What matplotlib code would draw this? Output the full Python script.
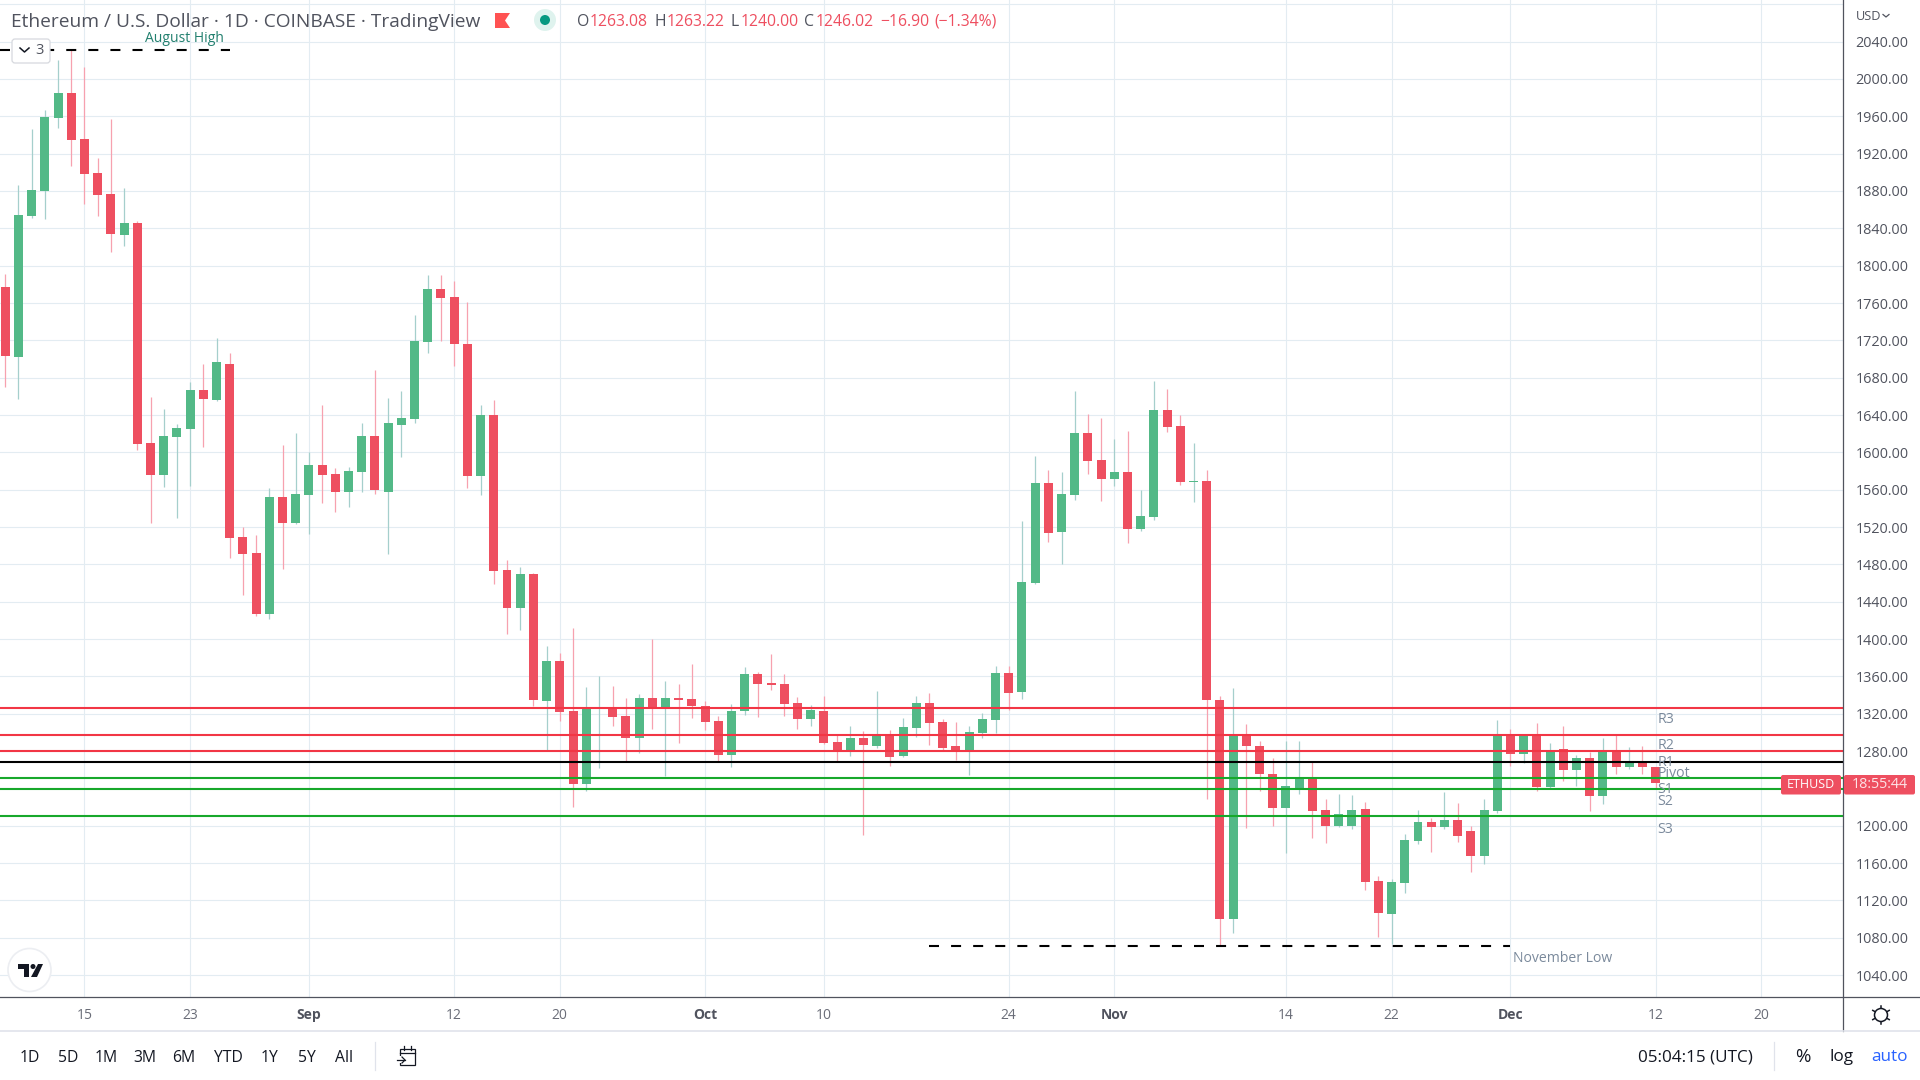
import pandas as pd
import matplotlib
matplotlib.use('Agg')
import matplotlib.pyplot as plt
import matplotlib.dates as mdates
from matplotlib.patches import Circle, FancyBboxPatch, Polygon, Rectangle

plt.rcParams['font.family'] = ['Open Sans', 'DejaVu Sans']

# daily candles from 9 Aug to 12 Dec
opens = [1777, 1702, 1853, 1880, 1958, 1985, 1935.7, 1899, 1876.8, 1832.9, 1845.8, 1609.6, 1575.4, 1617, 1624.6, 1666.4,
         1655.7, 1695, 1509, 1491.8, 1426.5, 1551.8, 1524, 1553.9, 1587, 1576.4, 1557.2, 1578.6, 1618, 1558, 1628.9, 1635.3,
         1718, 1775, 1766.4, 1716, 1574.3, 1639.6, 1473.6, 1432.9, 1469.3, 1333.7, 1376.6, 1323, 1244.9, 1325, 1326.2, 1317.7,
         1294, 1337, 1326, 1337, 1335.9, 1328.4, 1312.3, 1276, 1323, 1362.7, 1353, 1352, 1331.6, 1314.5, 1323, 1289.8,
         1281.3, 1294, 1285.6, 1297.3, 1274.8, 1304.8, 1331.6, 1311.3, 1285.6, 1281.3, 1299.5, 1313.4, 1363.7, 1343, 1459.7, 1566.8,
         1514.3, 1553.9, 1620.3, 1591.4, 1572, 1578.6, 1517.5, 1530.4, 1645, 1627.8, 1568, 1569, 1334.3, 1099.8, 1298, 1286,
         1256, 1218.6, 1240, 1251, 1216.5, 1199.4, 1199.4, 1217.6, 1140.5, 1105, 1138.3, 1183.3, 1203.6, 1198.3, 1205.8, 1194,
         1167.2, 1215.4, 1295.8, 1276.5, 1298, 1241.1, 1281.8, 1259.3, 1272.2, 1231.5, 1280.8, 1262.6, 1266.8, 1263.08]
highs = [1791, 1886, 1946.4, 1967, 2020, 2031, 2012.8, 1915, 1957, 1883, 1848, 1658.9, 1646.8, 1630, 1675, 1695,
         1722.5, 1706.4, 1519.7, 1512, 1561.4, 1607.5, 1620.3, 1600, 1650.3, 1582.9, 1584, 1632, 1687.8, 1657.8, 1665.3, 1747,
         1790, 1790, 1783.6, 1761, 1650.3, 1655.7, 1484.3, 1476.8, 1470.4, 1392.7, 1385, 1412, 1348.7, 1360.5, 1349.8, 1337,
         1341.2, 1400, 1355, 1352, 1373.4, 1333.7, 1317.7, 1330.5, 1370, 1364.8, 1384, 1362.7, 1338, 1329.5, 1339, 1297.3,
         1307, 1301.6, 1344.5, 1302.7, 1315.5, 1339, 1342.3, 1314.5, 1311.3, 1307, 1321, 1371.2, 1371.2, 1526, 1595.7, 1580.7,
         1578.6, 1665.3, 1640.7, 1636.4, 1614, 1622.5, 1559.3, 1677, 1667.5, 1639.6, 1609.6, 1580.7, 1338.6, 1348, 1308.6, 1290.4,
         1273, 1290.4, 1290.4, 1268, 1228.3, 1233.6, 1232.6, 1226, 1145.8, 1142.6, 1190.8, 1216.5, 1208, 1235.8, 1224, 1199.4,
         1228.3, 1312.9, 1303.3, 1298, 1309.7, 1288.3, 1306.5, 1275.4, 1278.6, 1293.6, 1296.8, 1284, 1285, 1263.22]
lows = [1669.6, 1657, 1851.5, 1850, 1947.5, 1906.8, 1866, 1853, 1814.7, 1821, 1603, 1524, 1562.5, 1529.3, 1563.6, 1605.4,
        1654.6, 1486.5, 1446.8, 1424.4, 1421, 1474.7, 1523, 1513, 1546, 1535.7, 1541, 1558, 1555, 1490.8, 1594.6, 1631,
        1706.4, 1719.3, 1693, 1561.4, 1553.9, 1458.6, 1405, 1409.4, 1328, 1281.3, 1312.3, 1220.2, 1237.4, 1262, 1307, 1269.5,
        1278, 1303.8, 1253.4, 1288.8, 1315.5, 1302.7, 1269.5, 1263.1, 1318.8, 1316.6, 1345.5, 1317.7, 1303.8, 1307, 1288, 1269.5,
        1274.8, 1190.2, 1283.4, 1264.1, 1274, 1295.2, 1286.6, 1281.3, 1270.6, 1254.5, 1294.1, 1299.5, 1324.1, 1335.5, 1458.6, 1503.6,
        1480, 1548.6, 1576.4, 1547.5, 1563.6, 1502.5, 1515.4, 1528, 1621.4, 1564.7, 1546.5, 1228.3, 1072, 1084.8, 1198, 1236.8,
        1199.4, 1170.4, 1233.6, 1186.5, 1182, 1199, 1197, 1130.8, 1080.5, 1073, 1127.6, 1180, 1171.5, 1196.2, 1183, 1151,
        1158.7, 1213.3, 1263.6, 1266.8, 1236.8, 1240, 1247.6, 1242.2, 1215.4, 1223, 1256, 1260.4, 1256, 1240]
closes = [1703, 1854, 1881, 1959, 1985, 1934.6, 1898, 1875.7, 1834, 1845.8, 1608.6, 1575.4, 1618, 1625.7, 1666.4, 1656.8,
          1696.4, 1507.9, 1490.8, 1426.5, 1551.8, 1524, 1555, 1587, 1575.4, 1557.2, 1579.6, 1618, 1559.3, 1631, 1636.4, 1719.3,
          1775, 1765.4, 1716, 1574.3, 1639.6, 1472.5, 1432.9, 1469.3, 1334.4, 1376.6, 1322, 1244.9, 1325, 1326.5, 1316.6, 1294,
          1337, 1325.5, 1337, 1334.8, 1328.4, 1311.3, 1276, 1323, 1362.7, 1352, 1351, 1330.5, 1314.5, 1324, 1288.8, 1280,
          1294, 1286.6, 1297.3, 1273.8, 1305.9, 1331.6, 1310.2, 1283.4, 1280.2, 1300.5, 1314.5, 1363.7, 1342.3, 1460.8, 1566.8, 1513.2,
          1555, 1620.3, 1590.4, 1572, 1578.6, 1517.5, 1531.5, 1645, 1626.8, 1567.9, 1568.6, 1334.3, 1099.8, 1295.8, 1285, 1255,
          1218.6, 1242.2, 1251.8, 1215.4, 1199.4, 1212.2, 1216.5, 1139.4, 1106.2, 1139.4, 1184.4, 1203.6, 1198.3, 1205.8, 1188.7, 1167.2,
          1216.5, 1295.8, 1276.5, 1296.8, 1241.1, 1280.8, 1259.3, 1272.2, 1231.5, 1280.8, 1262.6, 1266.8, 1262.6, 1246.02]

price_ticks = list(range(1040, 2081, 40))
# no label at the top gridline, and the price tag hides 1240
hidden_prices = [1240, 2080]
date_ticks = ['2022-08-15', '2022-08-23', '2022-09-01', '2022-09-12', '2022-09-20', '2022-10-01', '2022-10-10',
              '2022-10-24', '2022-11-01', '2022-11-14', '2022-11-22', '2022-12-01', '2022-12-12', '2022-12-20']
date_labels = ['15', '23', 'Sep', '12', '20', 'Oct', '10', '24', 'Nov', '14', '22', 'Dec', '12', '20']
month_labels = ['Sep', 'Oct', 'Nov', 'Dec']

res_levels = [1325.8, 1296.9, 1279.8]
pivot_level = 1268
sup_levels = [1250.8, 1239, 1210.5]
level_names = ['R3', 'R2', 'R1', 'Pivot', 'S1', 'S2', 'S3']
level_text_y = [1314, 1286, 1267.5, 1255.6, 1238.8, 1226, 1196]

august_high = 2031
november_low = 1071

GREEN = '#53b987'
RED = '#ee4f60'
GREEN_WICK = '#a5cfcc'
RED_WICK = '#f7a1af'
GRID = '#e3ecf2'
TEXT = '#50535e'
SLATE = '#7b8a9c'
WIDTH, HEIGHT = 1920, 1080
PANE_R, PANE_B = 1843, 997
DASHES = (0, (4.8, 5.8))

dates = pd.date_range('2022-08-09', periods=len(opens))
x = mdates.date2num(dates)
day15 = mdates.datestr2num('2022-08-15')
px_per_day = 13.203

fig = plt.figure(figsize=(19.2, 10.8), dpi=100, facecolor='white')
ax = fig.add_axes([0, 1 - PANE_B / HEIGHT, PANE_R / WIDTH, PANE_B / HEIGHT])
ax.set_xlim(day15 - 84.5 / px_per_day, day15 + (PANE_R - 84.5) / px_per_day)
ax.set_ylim(1016.6, 2084.6)

# candles
for i in range(len(opens)):
    up = closes[i] >= opens[i]
    ax.vlines(x[i], lows[i], highs[i], color=GREEN_WICK if up else RED_WICK, lw=0.9, zorder=2)
    bottom = min(opens[i], closes[i])
    height = max(abs(closes[i] - opens[i]), 1.6)
    ax.bar(x[i], height, width=0.68, bottom=bottom, color=GREEN if up else RED, lw=0, zorder=3)

# pivot levels
for lev in res_levels:
    ax.axhline(lev, color='#f23645', lw=1.5, zorder=4)
ax.axhline(pivot_level, color='black', lw=1.5, zorder=4)
for lev in sup_levels:
    ax.axhline(lev, color='#17a82b', lw=1.5, zorder=4)
label_x = mdates.datestr2num('2022-12-12') + 0.15
for name, yy in zip(level_names, level_text_y):
    ax.text(label_x, yy, name, color=SLATE, fontsize=10.2, va='center', ha='left', zorder=5)

ax.plot([ax.get_xlim()[0], mdates.datestr2num('2022-08-26')], [august_high, august_high], color='black',
        lw=1.5, ls=DASHES, zorder=4)
ax.plot([mdates.datestr2num('2022-10-18'), mdates.datestr2num('2022-12-01')], [november_low, november_low], color='black',
        lw=1.5, ls=DASHES, zorder=4)
ax.text(mdates.datestr2num('2022-08-23') - 0.4, 2043, 'August High', color='#22806f', fontsize=10, ha='center', va='center', zorder=5)
ax.text(mdates.datestr2num('2022-12-01') + 0.2, 1057.5, 'November Low', color=SLATE, fontsize=10.1, ha='left', va='center', zorder=5)

ax.set_xticks(mdates.datestr2num(date_ticks))
ax.set_xticklabels(date_labels, fontsize=10, color='#6a6d78')
for lab in ax.get_xticklabels():
    if lab.get_text() in month_labels:
        lab.set_fontweight('bold')
        lab.set_color(TEXT)
ax.set_yticks(price_ticks)
ax.set_yticklabels(['' if p in hidden_prices else '%.2f' % p for p in price_ticks], fontsize=10.4, color=TEXT, ha='left')
ax.yaxis.tick_right()
ax.tick_params(axis='both', length=0)
ax.tick_params(axis='x', pad=8)
ax.tick_params(axis='y', pad=9)
ax.grid(True, color=GRID, lw=0.8, zorder=0)
ax.set_axisbelow(True)
for s in ax.spines.values():
    s.set_visible(False)

# toolbar and header drawn in pixel coordinates on top of the pane
ui = fig.add_axes([0, 0, 1, 1], facecolor='none')
ui.set_xlim(0, WIDTH)
ui.set_ylim(HEIGHT, 0)
ui.axis('off')

ui.plot([PANE_R, PANE_R], [0, 1031], color=TEXT, lw=0.9)
ui.plot([0, WIDTH], [PANE_B, PANE_B], color=TEXT, lw=0.9)
ui.plot([0, WIDTH], [1031, 1031], color='#e0e3eb', lw=1.2)
ui.plot([375, 375], [1042, 1070], color='#e0e3eb', lw=0.9)
ui.plot([1774, 1774], [1042, 1070], color='#e0e3eb', lw=0.9)

ui.text(11, 22, 'Ethereum / U.S. Dollar · 1D · COINBASE · TradingView', fontsize=13.8, color=TEXT, va='center')
ui.add_patch(Polygon([(495, 13), (510, 13), (505, 20.5), (510, 28), (495, 28)], color='#ff5252', lw=0))
ui.add_patch(Circle((545, 20), 11, color='#dff3ee', lw=0))
ui.add_patch(Circle((545, 20), 5, color='#089981', lw=0))

ohlc_parts = [(576.7, 'O', TEXT), (590, '1263.08', RED), (654, 'H', TEXT), (667, '1263.22', RED), (730, 'L', TEXT),
              (741, '1240.00', RED), (804, 'C', TEXT), (816, '1246.02', RED), (880, '−16.90', RED), (934, '(−1.34%)', RED)]
for px, txt, col in ohlc_parts:
    ui.text(px, 22, txt, fontsize=11.3, color=col, va='center')

ui.add_patch(FancyBboxPatch((12, 39), 38, 24, boxstyle='round,pad=0,rounding_size=3', fc='white', ec='#d6d8de', lw=0.9, zorder=6))
ui.plot([20, 24.5, 29], [48, 52, 48], color='#131722', lw=1.1, zorder=7)
ui.text(40, 51, '3', fontsize=10.5, color=TEXT, ha='center', va='center', zorder=7)

ui.text(1855.5, 16.5, 'USD', fontsize=9.2, color=TEXT, va='center')
ui.plot([1883, 1886, 1889], [14.5, 17, 14.5], color=TEXT, lw=0.9)

# TradingView logo
ui.add_patch(Circle((29.5, 970), 21.5, fc='white', ec='#eceef2', lw=1.2, zorder=6))
ui.add_patch(Polygon([(18, 964), (29, 964), (29, 977), (24, 977), (24, 969), (18, 969)], color='#131722', lw=0, zorder=7))
ui.add_patch(Circle((33, 966.5), 2.5, color='#131722', lw=0, zorder=7))
ui.add_patch(Polygon([(38, 964), (43, 964), (37, 977), (31, 977)], color='#131722', lw=0, zorder=7))

# last price tags
ui.add_patch(FancyBboxPatch((1781, 775), 60, 19.5, boxstyle='round,pad=0,rounding_size=2', fc=RED, ec='none', zorder=6))
ui.add_patch(FancyBboxPatch((1844, 775), 71, 19.5, boxstyle='round,pad=0,rounding_size=2', fc=RED, ec='none', zorder=6))
ui.text(1811, 784.5, 'ETHUSD', fontsize=9, color='white', ha='center', va='center', zorder=7)
ui.text(1879.5, 784.5, '18:55:44', fontsize=10.4, color='#fde3e6', ha='center', va='center', zorder=7)

# gear icon
ui.add_patch(Circle((1881, 1015), 6.5, fc='white', ec='#131722', lw=1.1))
for dx, dy in [(0, -8.5), (0, 8.5), (-7.5, -4.2), (7.5, -4.2), (-7.5, 4.2), (7.5, 4.2)]:
    ui.plot([1881 + dx * 0.85, 1881 + dx * 1.1], [1015 + dy * 0.85, 1015 + dy * 1.1], color='#131722', lw=1.1)

range_btns = ['1D', '5D', '1M', '3M', '6M', 'YTD', '1Y', '5Y', 'All']
range_x = [30, 68, 106.5, 145, 184, 228, 270, 307, 344]
for px, txt in zip(range_x, range_btns):
    ui.text(px, 1057.5, txt, fontsize=11.3, color='#131722', ha='center', va='center')

# calendar icon
ui.add_patch(Rectangle((400, 1049), 15, 16, fc='white', ec='#131722', lw=0.9))
ui.plot([400, 415], [1053, 1053], color='#131722', lw=0.9)
ui.plot([404, 404], [1046, 1050], color='#131722', lw=0.9)
ui.plot([411, 411], [1046, 1050], color='#131722', lw=0.9)
ui.add_patch(Rectangle((398, 1056), 8, 7, fc='white', ec='none'))
ui.plot([397, 405], [1060, 1060], color='#131722', lw=0.9)
ui.plot([402, 405, 402], [1057, 1060, 1063], color='#131722', lw=0.9)

ui.text(1695, 1057, '05:04:15 (UTC)', fontsize=12.3, color='#131722', ha='center', va='center')
ui.text(1803, 1057, '%', fontsize=13.5, color='#131722', ha='center', va='center')
ui.text(1842, 1057, 'log', fontsize=12.3, color='#131722', ha='center', va='center')
ui.text(1889, 1057, 'auto', fontsize=12.3, color='#2962ff', ha='center', va='center')

fig.savefig('out.png', dpi=100)
print('Done!')
